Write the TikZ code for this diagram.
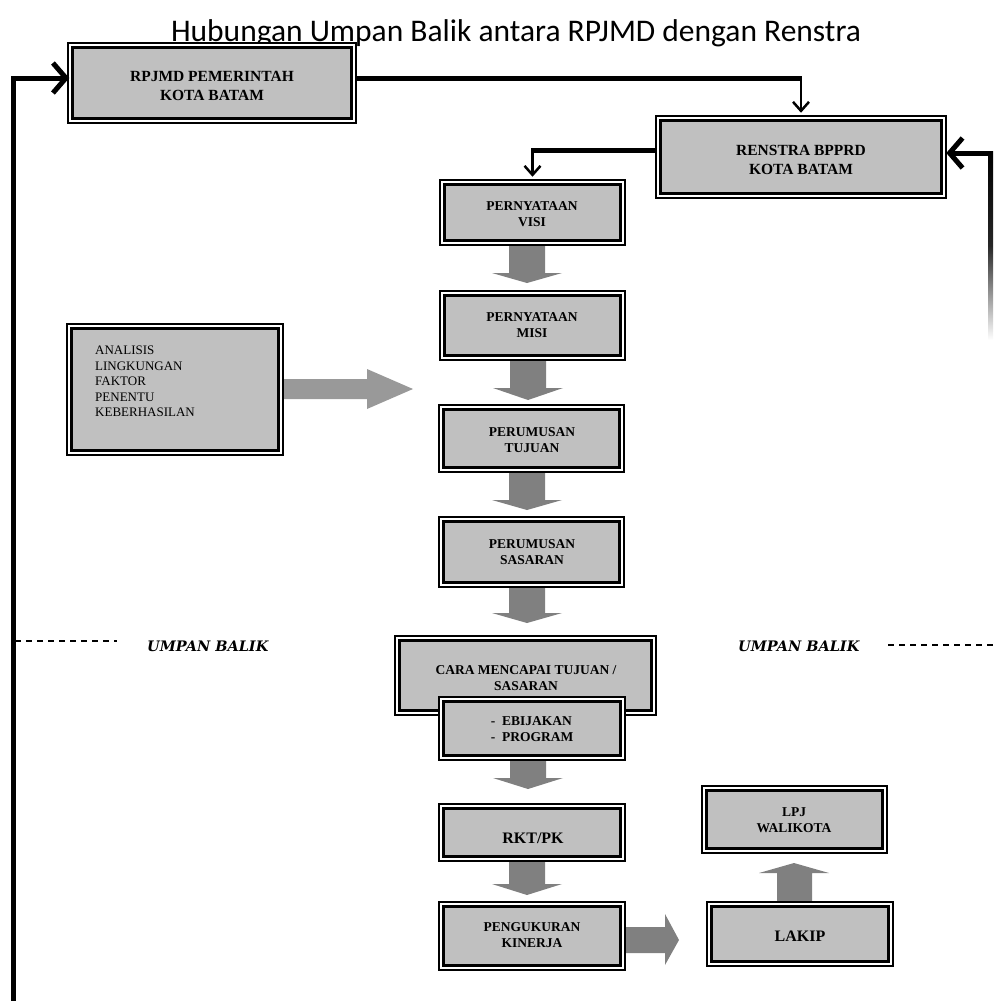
\documentclass[tikz,border=0pt]{standalone}
\usepackage{fontspec}
\setmainfont{Liberation Serif}
\newfontfamily\titlefont{Carlito}
\newfontfamily\ubfont{DejaVu Serif}
\usetikzlibrary{arrows.meta,calc}
\definecolor{boxgray}{HTML}{C0C0C0}
\definecolor{arrgray}{HTML}{808080}
\definecolor{arrlight}{HTML}{999999}
\pgfdeclarelayer{bg}
\pgfsetlayers{bg,main}
\tikzset{
  boxin/.style={draw, line width=3.5pt, fill=boxgray, inner sep=0pt},
  outerframe/.style={line width=1.3pt, fill=white},
  lbl/.style={font=\bfseries\fontsize{13.5}{16.5}\selectfont, align=center, inner sep=0pt},
  biglbl/.style={font=\bfseries\fontsize{15.5}{18.5}\selectfont, align=center, inner sep=0pt},
  fatline/.style={line width=5pt},
  thinarrow/.style={line width=2.5pt, -{Straight Barb[length=9pt,width=16pt,line width=2.5pt]}},
  fbarrow/.style={line width=5pt, -{Straight Barb[length=13pt,width=30pt,line width=5pt]}},
  ub/.style={font=\ubfont\bfseries\itshape\fontsize{14.5}{17}\selectfont, inner sep=0pt, anchor=west},
  dashline/.style={line width=1.5pt, dash pattern=on 6pt off 5pt}
}
\newcommand\dbox[5]{%
  \draw[outerframe] (#2,#3) rectangle (#4,#5);
  \pgfmathsetmacro\dbw{#4-#2-9}\pgfmathsetmacro\dbh{#5-#3-9}
  \node[boxin, minimum width=\dbw pt, minimum height=\dbh pt] (#1) at ({(#2+#4)/2},{(#3+#5)/2}) {};}
\newcommand\blkdown[4]{% cx, ytop, ybase, ytip
  \fill[arrgray] (#1-18,#2) -- (#1+18,#2) -- (#1+18,#3) -- (#1+35,#3) -- (#1,#4) -- (#1-35,#3) -- (#1-18,#3) -- cycle;}
\begin{document}
\begin{tikzpicture}[x=1pt,y=-1pt]
\useasboundingbox (0,0) rectangle (993,1001);

% title
\node[font=\titlefont\fontsize{31.5}{37}\selectfont, anchor=base, inner sep=0pt] (title) at (516,41) {Hubungan Umpan Balik antara RPJMD dengan Renstra};

% block arrows (background)
\begin{pgfonlayer}{bg}
\blkdown{527}{240}{273}{283}
\blkdown{528}{355}{388}{400}
\blkdown{527}{467}{500}{510}
\blkdown{527}{582}{613}{623}
\blkdown{528}{755}{778}{789}
\blkdown{527}{856}{884}{895}
\fill[arrlight] (280,379) -- (367,379) -- (367,369) -- (413,389) -- (367,409) -- (367,399) -- (280,399) -- cycle;
\fill[arrgray] (620,927) -- (665,927) -- (665,914) -- (679,940) -- (665,965) -- (665,953) -- (620,953) -- cycle;
\fill[arrgray] (777,908) -- (777,873) -- (759,873) -- (794,863) -- (829,873) -- (812,873) -- (812,908) -- cycle;
\end{pgfonlayer}

% boxes
\dbox{rpjmd}{68}{43}{356}{123}
\node[biglbl] (rpjmdT) at (212,86) {RPJMD PEMERINTAH\\KOTA BATAM};
\dbox{renstra}{656}{116}{946}{198}
\node[biglbl] (renstraT) at (801,160) {RENSTRA BPPRD\\KOTA BATAM};
\dbox{visi}{440}{180}{625}{245}
\node[lbl] (visiT) at (532,214) {PERNYATAAN\\VISI};
\dbox{misi}{440}{291}{625}{360}
\node[lbl] (misiT) at (532,325) {PERNYATAAN\\MISI};
\dbox{analisis}{67}{324}{283}{455}
\node[font=\fontsize{13}{15.5}\selectfont, align=left, inner sep=0pt, anchor=north west] (analisisT) at (95,346) {ANALISIS\\LINGKUNGAN\\FAKTOR\\PENENTU\\KEBERHASILAN};
\dbox{tujuan}{439}{405}{624}{472}
\node[lbl] (tujuanT) at (532,440) {PERUMUSAN\\TUJUAN};
\dbox{sasaran}{439}{517}{624}{587}
\node[lbl] (sasaranT) at (532,552) {PERUMUSAN\\SASARAN};
\dbox{cara}{395}{636}{656}{715}
\node[lbl] (caraT) at (526,678) {CARA MENCAPAI TUJUAN /\\SASARAN};
\dbox{kebijakan}{439}{697}{625}{760}
\node[lbl, align=left] (kebijakanT) at (532,729) {-\ \ EBIJAKAN\\-\ \ PROGRAM};
\dbox{rkt}{439}{804}{625}{861}
\node[font=\bfseries\fontsize{16}{19}\selectfont, inner sep=0pt] (rktT) at (533,838) {RKT/PK};
\dbox{ukur}{439}{902}{625}{970}
\node[lbl] (ukurT) at (532,935) {PENGUKURAN\\KINERJA};
\dbox{lpj}{702}{786}{887}{853}
\node[lbl] (lpjT) at (794,820) {LPJ\\WALIKOTA};
\dbox{lakip}{707}{902}{893}{966}
\node[font=\bfseries\fontsize{16}{19}\selectfont, inner sep=0pt] (lakipT) at (800,936) {LAKIP};

% connectors
\coordinate (r1) at ([yshift=5pt]rpjmd.east);
\coordinate (k1) at (r1 -| renstra.north);
\begin{pgfonlayer}{bg}
\draw[fatline] (r1) -- ([xshift=1.25pt]k1);
\end{pgfonlayer}
\draw[thinarrow, shorten >=6pt] (k1) -- (renstra.north);

\coordinate (r2) at ([yshift=7pt]renstra.west);
\coordinate (k2) at (r2 -| visi.north);
\begin{pgfonlayer}{bg}
\draw[fatline] (r2) -- ([xshift=-1.25pt]k2);
\end{pgfonlayer}
\draw[thinarrow, shorten >=6pt] (k2) -- (visi.north);

% right feedback
\coordinate (fbR) at (991,153);
\draw[fbarrow, shorten >=3pt] (fbR) -- (fbR -| renstra.east);
\shade[top color=black, bottom color=white, middle color=black!85] (988.5,151) rectangle (993,340);

% left feedback
\coordinate (fbL) at (13,1003);
\draw[fbarrow, shorten >=1.5pt] (fbL) |- ([yshift=5pt]rpjmd.west);

% umpan balik
\draw[dashline] (15,641) -- (117,641);
\node[ub] (ubL) at (147,646) {UMPAN BALIK};
\node[ub] (ubR) at (738,646) {UMPAN BALIK};
\draw[dashline] (888,645) -- (993,645);
\end{tikzpicture}
\end{document}
